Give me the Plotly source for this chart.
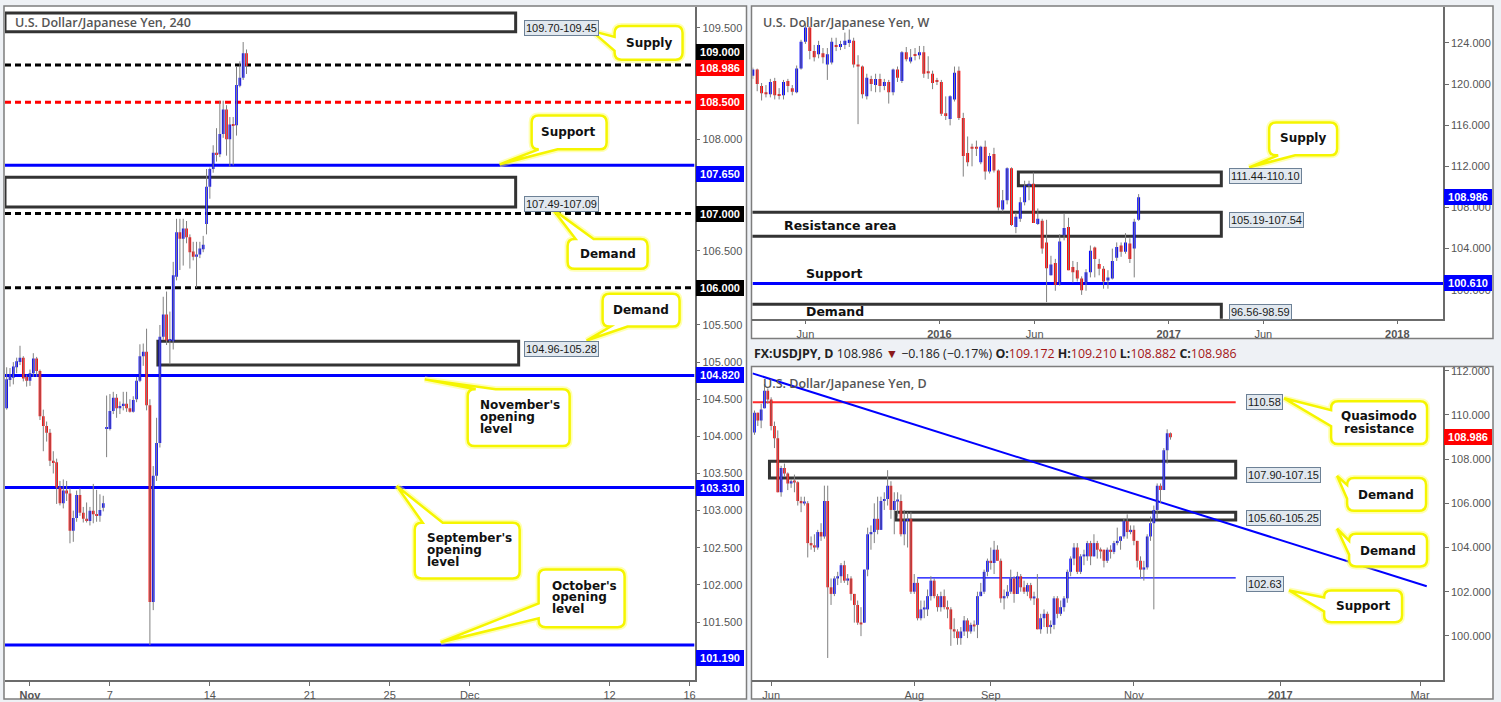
import plotly.graph_objects as go
import pandas as pd
import numpy as np

W, H = 1501, 702
BLUE, RED, WICK = "#0000ff", "#ff0000", "#808080"
AXIS = "#6b6b6b"
TXT = "#555555"
TICKFONT = dict(family="Liberation Sans", size=11, color=TXT)

# ===================== 4H panel data =====================
h4_days = ["2016-10-31", "2016-11-01", "2016-11-02", "2016-11-03", "2016-11-04",
           "2016-11-07", "2016-11-08", "2016-11-09", "2016-11-10", "2016-11-11",
           "2016-11-14", "2016-11-15", "2016-11-16"]
h4_counts = [6, 6, 6, 6, 6, 6, 6, 6, 6, 6, 6, 6, 1]
h4_open = [104.38, 104.76, 104.79, 104.93, 105.00, 105.06, 104.80, 104.75, 104.85, 105.05,
           104.88, 104.27, 104.14, 104.05, 103.67, 103.65, 103.31, 103.10, 103.27, 103.23,
           102.73, 102.90, 103.21, 102.97, 102.89, 102.86, 103.00, 102.95, 102.93, 103.04,
           104.10, 104.10, 104.34, 104.52, 104.38, 104.41, 104.44, 104.38, 104.33, 104.50,
           104.75, 105.08, 105.14, 104.42, 101.77, 103.47, 103.91, 105.34, 105.64, 105.29,
           105.28, 106.15, 106.75, 106.66, 106.80, 106.68, 106.49, 106.42, 106.45, 106.52,
           106.86, 107.36, 107.60, 107.82, 107.80, 108.07, 108.40, 108.00, 108.20, 108.19,
           108.72, 108.83, 109.16]
h4_high = [104.93, 104.92, 105.00, 105.06, 105.22, 105.08, 104.83, 104.90, 105.12, 105.07,
           104.90, 104.36, 104.20, 104.10, 103.80, 103.70, 103.40, 103.42, 103.40, 103.30,
           103.00, 103.27, 103.30, 103.05, 103.11, 103.05, 103.36, 103.28, 103.22, 103.20,
           104.55, 104.57, 104.60, 104.57, 104.47, 104.60, 104.60, 104.50, 104.54, 104.80,
           105.24, 105.25, 105.45, 104.50, 103.60, 104.25, 105.50, 105.88, 105.95, 105.68,
           106.35, 106.93, 106.93, 106.93, 106.90, 106.72, 106.62, 106.62, 106.62, 106.70,
           107.60, 107.62, 107.92, 108.15, 108.52, 108.52, 108.46, 108.30, 108.30, 108.98,
           109.05, 109.31, 109.21]
h4_low = [104.36, 104.67, 104.70, 104.85, 104.96, 104.74, 104.67, 104.68, 104.80, 104.80,
          104.22, 103.80, 103.93, 103.60, 103.50, 103.09, 103.07, 103.03, 103.13, 102.56,
          102.58, 102.85, 102.93, 102.84, 102.84, 102.80, 102.83, 102.85, 102.85, 102.99,
          103.72, 104.08, 104.30, 104.25, 104.30, 104.35, 104.33, 104.32, 104.32, 104.46,
          104.73, 104.95, 104.35, 101.19, 101.66, 103.40, 103.85, 105.30, 105.23, 104.97,
          105.17, 106.10, 106.24, 106.30, 106.60, 106.26, 106.37, 106.00, 106.40, 106.48,
          106.72, 107.20, 107.55, 107.70, 107.76, 108.02, 107.78, 107.63, 107.65, 108.05,
          108.70, 108.80, 108.88]
h4_close = [104.77, 104.83, 104.94, 105.01, 105.06, 104.78, 104.75, 104.85, 105.05, 104.88,
            104.27, 104.14, 104.05, 103.67, 103.65, 103.31, 103.10, 103.27, 103.23, 102.73,
            102.90, 103.21, 102.97, 102.89, 102.86, 103.00, 102.95, 102.93, 103.01, 103.10,
            104.12, 104.34, 104.52, 104.38, 104.41, 104.44, 104.38, 104.33, 104.49, 104.75,
            105.08, 105.14, 104.42, 101.77, 103.47, 103.91, 105.34, 105.64, 105.29, 105.31,
            106.17, 106.75, 106.66, 106.80, 106.68, 106.48, 106.42, 106.45, 106.53, 106.58,
            107.36, 107.60, 107.82, 107.80, 108.07, 108.40, 108.00, 108.20, 108.18, 108.73,
            108.83, 109.16, 108.986]
h4_tick_dates = ["2016-11-01", "2016-11-07", "2016-11-14", "2016-11-21", "2016-11-25",
                 "2016-12-01", "2016-12-12", "2016-12-16"]
h4_tick_text = ["<b>Nov</b>", "7", "14", "21", "25", "Dec", "12", "16"]
h4_yticks = [101.5, 102.0, 102.5, 103.0, 103.5, 104.0, 104.5, 105.0, 105.5, 106.5, 108.0, 109.5]
h4_levels = [109.0, 108.5, 107.65, 107.0, 106.0, 104.82, 103.31, 101.19]
h4_level_colors = ["#000000", RED, BLUE, "#000000", "#000000", BLUE, BLUE, BLUE]
h4_level_dash = ["6px,4px", "6px,4px", "solid", "6px,4px", "6px,4px", "solid", "solid", "solid"]
h4_zone_lo = [109.45, 107.09, 104.96]
h4_zone_hi = [109.70, 107.49, 105.28]
h4_zone_text = ["109.70-109.45", "107.49-107.09", "104.96-105.28"]
h4_tags = [109.0, 108.986, 108.5, 107.65, 107.0, 106.0, 104.82, 103.31, 101.19]
h4_tag_colors = ["#000000", RED, RED, BLUE, "#000000", "#000000", BLUE, BLUE, BLUE]

# ===================== Weekly panel data =====================
w_start = "2015-03-09"
w_open = [120.8, 121.4, 119.8, 119.2, 119.0, 120.3, 119.0, 118.9, 120.3, 119.6,
          119.2, 121.5, 124.1, 125.5, 123.2, 122.9, 123.0, 121.9, 122.1, 123.8,
          123.6, 123.8, 124.0, 124.2, 121.9, 121.7, 118.8, 120.5, 119.9, 120.5,
          119.8, 120.2, 119.2, 121.4, 120.3, 123.1, 122.2, 122.85, 122.8, 123.1,
          121.25, 121.0, 120.3, 120.2, 117.15, 116.6, 118.5, 121.3, 116.7, 113.3,
          113.9, 113.9, 112.4, 113.9, 111.5, 113.2, 111.6, 107.8, 108.7, 111.8,
          106.1, 106.9, 108.5, 110.1, 110.3, 106.4, 106.7, 104.6, 101.4, 102.6,
          100.45, 105.3, 106.1, 102.2, 101.9, 101.1, 100.6, 101.7, 104.1, 102.5,
          102.05, 100.9, 101.1, 103.1, 104.3, 103.7, 104.5, 104.0, 106.8]
w_high = [121.6, 121.5, 120.1, 119.9, 120.5, 120.6, 119.6, 120.4, 120.5, 119.9,
          121.8, 124.3, 125.9, 125.6, 123.8, 124.2, 123.5, 123.5, 124.5, 124.5,
          124.2, 125.0, 125.3, 124.5, 122.8, 121.8, 121.0, 120.8, 121.0, 121.0,
          120.5, 120.4, 121.5, 121.7, 123.2, 123.6, 123.4, 123.5, 123.7, 123.7,
          122.7, 121.3, 120.6, 120.4, 118.8, 118.9, 121.7, 121.7, 117.2, 114.9,
          114.2, 114.5, 114.0, 114.5, 113.3, 113.8, 111.7, 109.7, 111.9, 111.9,
          107.5, 109.0, 110.6, 110.6, 111.4, 107.9, 106.9, 106.8, 103.3, 103.0,
          105.4, 107.4, 107.0, 102.8, 102.7, 101.3, 102.0, 104.3, 104.2, 103.0,
          102.3, 101.9, 104.0, 104.6, 104.6, 105.5, 105.0, 106.9, 109.3]
w_low = [120.5, 119.3, 118.4, 118.7, 118.7, 118.5, 118.5, 118.5, 119.2, 118.9,
         119.1, 121.4, 123.9, 122.4, 122.2, 122.5, 122.0, 120.4, 121.9, 123.2,
         123.3, 123.4, 123.6, 121.6, 116.1, 118.6, 118.5, 119.3, 119.2, 119.2,
         119.4, 118.1, 118.9, 120.2, 120.1, 122.2, 122.0, 122.3, 122.4, 120.6,
         120.5, 119.5, 119.9, 116.9, 116.5, 115.98, 118.3, 116.5, 111.0, 112.0,
         112.0, 113.0, 112.2, 110.7, 111.3, 111.4, 107.7, 107.6, 108.3, 106.2,
         105.5, 106.6, 108.2, 108.7, 106.5, 106.3, 103.5, 98.8, 101.4, 99.9,
         100.4, 104.8, 101.9, 100.7, 100.8, 99.5, 99.9, 101.2, 101.2, 101.4,
         100.1, 100.1, 101.0, 102.8, 103.2, 103.5, 102.6, 101.2, 106.7]
w_close = [121.4, 120.0, 119.1, 119.0, 120.2, 118.9, 118.85, 120.2, 119.8, 119.25,
           121.5, 124.1, 125.5, 123.2, 122.6, 123.8, 122.6, 122.9, 124.1, 123.6,
           123.9, 124.2, 124.3, 121.9, 121.7, 119.0, 120.6, 120.0, 120.5, 119.8,
           120.2, 119.2, 121.4, 120.6, 123.1, 122.4, 122.6, 122.75, 123.1, 121.0,
           121.05, 120.1, 120.2, 117.1, 116.9, 118.8, 121.1, 116.7, 113.0, 112.4,
           113.7, 113.7, 113.9, 111.5, 113.0, 111.6, 108.0, 108.7, 111.8, 106.3,
           107.1, 108.5, 110.1, 110.3, 106.5, 106.9, 104.0, 102.1, 102.45, 100.45,
           104.7, 106.0, 101.9, 101.7, 101.1, 99.96, 101.7, 103.8, 103.0, 102.05,
           100.8, 101.2, 102.8, 104.15, 103.7, 104.6, 103.0, 106.6, 108.986]
w_tick_dates = ["2015-06-01", "2016-01-01", "2016-06-01", "2017-01-01", "2017-06-01", "2018-01-01"]
w_tick_text = ["Jun", "<b>2016</b>", "Jun", "<b>2017</b>", "Jun", "<b>2018</b>"]
w_yticks = [100, 104, 108, 112, 116, 120, 124]
w_zone_lo = [110.10, 105.19, 96.56]
w_zone_hi = [111.44, 107.54, 98.59]
w_zone_start = ["2016-05-06", "2015-03-01", "2015-03-01"]
w_zone_end = "2017-03-26"
w_zone_text = ["111.44-110.10", "105.19-107.54", "96.56-98.59"]
w_support = 100.61

# ===================== Daily panel data =====================
d_start, d_end = "2016-05-25", "2016-11-16"
d_open = [109.2, 110.1, 109.75, 110.3, 111.1, 110.7, 109.5, 108.95, 106.5, 107.6,
          107.35, 106.9, 107.0, 106.95, 106.1, 106.0, 106.0, 104.2, 104.1, 104.0,
          104.7, 104.5, 106.1, 102.2, 101.9, 102.6, 102.7, 103.2, 102.5, 102.6,
          101.9, 101.4, 100.6, 100.6, 103.0, 104.6, 104.7, 105.3, 104.8, 106.1,
          106.2, 106.8, 105.7, 106.1, 106.1, 104.6, 105.2, 105.3, 102.0, 102.4,
          100.8, 101.2, 101.2, 101.8, 102.5, 101.8, 101.3, 101.8, 101.3, 101.2,
          100.3, 100.2, 99.9, 100.2, 100.7, 100.2, 100.5, 100.5, 101.8, 102.0,
          102.9, 103.4, 103.3, 103.9, 103.4, 101.7, 101.8, 102.0, 102.6, 101.9,
          102.7, 102.2, 102.0, 102.3, 101.7, 101.7, 100.3, 100.8, 101.0, 100.4,
          100.5, 101.7, 101.0, 101.3, 101.7, 102.9, 103.5, 104.0, 102.9, 103.6,
          103.6, 104.2, 103.6, 104.2, 103.9, 103.9, 103.4, 103.9, 103.8, 104.2,
          104.3, 104.5, 105.2, 104.7, 104.8, 104.3, 103.4, 103.0, 103.1, 104.5,
          105.1, 105.7, 106.8, 106.6, 108.4, 109.172]
d_high = [110.2, 110.1, 110.5, 111.4, 111.2, 110.8, 109.7, 109.3, 107.7, 107.8,
          107.4, 107.1, 107.3, 107.0, 106.3, 106.3, 106.1, 104.5, 104.6, 104.8,
          105.1, 106.8, 106.8, 102.6, 102.7, 102.9, 103.3, 103.4, 102.8, 102.7,
          101.9, 101.6, 101.3, 103.0, 104.9, 105.0, 106.0, 106.3, 106.3, 106.5,
          107.5, 107.0, 106.5, 106.5, 106.4, 105.7, 105.6, 105.6, 102.8, 102.6,
          101.6, 101.6, 102.1, 102.7, 102.6, 101.9, 102.0, 102.1, 101.6, 101.3,
          100.8, 100.3, 100.4, 100.9, 100.8, 100.6, 100.7, 102.0, 102.4, 103.0,
          103.5, 104.0, 104.3, 104.1, 103.5, 102.1, 102.3, 103.0, 102.7, 102.9,
          102.8, 102.5, 102.4, 102.4, 102.0, 102.8, 101.0, 101.2, 101.1, 100.7,
          101.8, 101.8, 101.6, 101.8, 103.0, 103.6, 104.2, 104.2, 103.7, 103.9,
          104.3, 104.3, 104.6, 104.3, 104.0, 103.9, 104.0, 104.1, 104.3, 104.9,
          104.5, 105.3, 105.5, 105.0, 105.0, 104.3, 103.6, 103.4, 104.6, 105.4,
          105.9, 106.9, 106.9, 108.5, 109.35, 109.21]
d_low = [109.1, 109.5, 109.4, 110.3, 110.5, 109.3, 108.5, 106.5, 106.3, 107.2,
         106.6, 106.7, 106.5, 105.9, 105.6, 105.9, 103.55, 103.9, 103.8, 103.9,
         104.3, 104.4, 99.0, 101.4, 101.8, 102.3, 102.4, 102.4, 102.3, 101.6,
         100.6, 100.5, 99.99, 100.6, 102.7, 103.9, 104.2, 104.6, 104.8, 105.7,
         105.9, 105.3, 104.6, 105.4, 104.5, 104.1, 104.0, 101.9, 101.9, 100.7,
         100.7, 100.8, 100.9, 101.6, 101.7, 101.1, 101.1, 101.2, 100.8, 99.55,
         99.9, 99.6, 99.6, 100.0, 99.9, 100.1, 100.2, 99.9, 101.8, 101.9,
         102.7, 103.0, 102.8, 103.4, 101.5, 101.2, 101.7, 101.9, 101.5, 101.9,
         102.0, 101.9, 101.8, 101.6, 101.4, 100.3, 100.1, 100.4, 100.1, 100.1,
         100.3, 100.8, 100.9, 101.1, 101.5, 102.7, 103.2, 102.8, 102.8, 103.2,
         103.4, 103.2, 103.6, 103.5, 103.5, 103.1, 103.3, 103.5, 103.7, 104.1,
         103.9, 104.4, 104.4, 104.6, 104.1, 103.1, 102.6, 102.5, 103.0, 104.3,
         101.2, 105.3, 106.0, 106.6, 107.8, 108.882]
d_close = [110.1, 109.75, 110.25, 111.1, 110.7, 109.5, 108.95, 106.5, 107.6, 107.35,
           106.9, 107.0, 106.95, 106.1, 106.0, 106.05, 104.2, 104.1, 104.0, 104.7,
           104.5, 106.1, 102.2, 101.9, 102.6, 102.7, 103.2, 102.5, 102.6, 101.9,
           101.4, 100.6, 100.55, 103.0, 104.6, 104.7, 105.3, 104.8, 106.1, 106.2,
           106.8, 105.7, 106.1, 106.15, 104.6, 105.2, 105.3, 102.0, 102.4, 100.8,
           101.2, 101.25, 101.8, 102.5, 101.8, 101.3, 101.8, 101.3, 101.2, 100.3,
           100.2, 99.9, 100.2, 100.7, 100.2, 100.5, 100.45, 101.8, 102.0, 102.9,
           103.4, 103.3, 103.9, 103.4, 101.7, 101.8, 102.0, 102.6, 101.9, 102.7,
           102.2, 102.0, 102.3, 101.7, 101.75, 100.3, 100.8, 101.0, 100.4, 100.5,
           101.7, 101.0, 101.3, 101.7, 102.9, 103.5, 104.0, 102.9, 103.6, 103.65,
           104.2, 103.6, 104.2, 103.9, 103.85, 103.4, 103.9, 103.8, 104.2, 104.3,
           104.5, 105.2, 104.7, 104.8, 104.3, 103.4, 103.0, 103.1, 104.5, 105.1,
           105.7, 106.8, 106.6, 108.4, 109.172, 108.986]
d_tick_dates = ["2016-06-01", "2016-08-01", "2016-09-01", "2016-11-01", "2017-01-02", "2017-03-01"]
d_tick_text = ["Jun", "Aug", "Sep", "Nov", "<b>2017</b>", "Mar"]
d_yticks = [100, 102, 104, 106, 108, 110, 112]
d_zone_lo = [107.15, 105.25]
d_zone_hi = [107.90, 105.60]
d_zone_start = [4.5, 42.5]
d_zone_end = 144.6
d_zone_text = ["107.90-107.15", "105.60-105.25"]
d_qm_level, d_support_level = 110.58, 102.63
d_support_start = 48.9
d_trend_x = [-0.6, 202.0]
d_trend_y = [111.88, 102.25]

# ===================== helpers =====================
def PX(x):
    return x / W

def PY(y):
    return 1 - y / H

fig = go.Figure()
shapes, annots = [], []


def add_candles(xs, o, h, l, c, xa, ya, body_w, min_h):
    o, h, l, c = map(np.asarray, (o, h, l, c))
    wx, wy = [], []
    for xi, lo, hi in zip(xs, l, h):
        wx += [xi, xi, None]
        wy += [lo, hi, None]
    fig.add_trace(go.Scatter(x=wx, y=wy, mode="lines", line=dict(color=WICK, width=1),
                             xaxis=xa, yaxis=ya, hoverinfo="skip", showlegend=False))
    base = np.minimum(o, c)
    height = np.maximum(np.abs(c - o), min_h)
    cols = [BLUE if cc >= oo else RED for oo, cc in zip(o, c)]
    fig.add_trace(go.Bar(x=list(xs), y=height, base=base, width=body_w,
                         marker=dict(color=cols, line=dict(width=0)),
                         xaxis=xa, yaxis=ya, hoverinfo="skip", showlegend=False))


def price_tag(val, color, yref, xpix, yshift=0):
    annots.append(dict(xref="paper", yref=yref, x=PX(xpix), y=val, xanchor="left",
                       yanchor="middle", text=f"<b>{val:.3f}</b>", showarrow=False,
                       bgcolor=color, font=dict(family="Liberation Sans", size=11, color="white"),
                       width=46, height=14, borderpad=1, borderwidth=0, yshift=yshift))


def zone_label(text, xpix, ypix):
    annots.append(dict(xref="paper", yref="paper", x=PX(xpix), y=PY(ypix), xanchor="left",
                       yanchor="middle", text=text, showarrow=False, bgcolor="#e1e8ef",
                       bordercolor="#6d8196", borderwidth=1, borderpad=1,
                       font=dict(family="Liberation Sans", size=11, color="#1a1a1a")))


def callout(x0, y0, x1, y1, side, a, b, tx, ty, r=7):
    P = lambda x, y: f"{x / W:.6f},{1 - y / H:.6f}"
    s = [f"M {P(x0 + r, y0)}"]
    if side == "top":
        s += [f"L {P(a, y0)}", f"L {P(tx, ty)}", f"L {P(b, y0)}"]
    s += [f"L {P(x1 - r, y0)}", f"Q {P(x1, y0)} {P(x1, y0 + r)}"]
    if side == "right":
        s += [f"L {P(x1, a)}", f"L {P(tx, ty)}", f"L {P(x1, b)}"]
    s += [f"L {P(x1, y1 - r)}", f"Q {P(x1, y1)} {P(x1 - r, y1)}"]
    if side == "bottom":
        s += [f"L {P(b, y1)}", f"L {P(tx, ty)}", f"L {P(a, y1)}"]
    s += [f"L {P(x0 + r, y1)}", f"Q {P(x0, y1)} {P(x0, y1 - r)}"]
    if side == "left":
        s += [f"L {P(x0, b)}", f"L {P(tx, ty)}", f"L {P(x0, a)}"]
    s += [f"L {P(x0, y0 + r)}", f"Q {P(x0, y0)} {P(x0 + r, y0)}", "Z"]
    path = " ".join(s)
    shapes.append(dict(type="path", xref="paper", yref="paper", path=path,
                       fillcolor="white", line=dict(color="rgba(255,255,90,0.45)", width=6),
                       layer="above"))
    shapes.append(dict(type="path", xref="paper", yref="paper", path=path,
                       fillcolor="white", line=dict(color="#f5f500", width=2.5), layer="above"))


def btext(text, xpix, ypix, anchor="center", size=12):
    annots.append(dict(xref="paper", yref="paper", x=PX(xpix), y=PY(ypix), xanchor=anchor,
                       yanchor="middle", text=f"<b>{text}</b>", showarrow=False,
                       font=dict(family="DejaVu Sans", size=size, color="#111111")))


# ===================== backgrounds & frames =====================
for (x0, y0, x1, y1) in [(4, 3, 747, 699), (752, 3, 1494, 337), (752, 365, 1494, 699)]:
    shapes.append(dict(type="rect", xref="paper", yref="paper", x0=PX(x0), x1=PX(x1),
                       y0=PY(y1), y1=PY(y0), fillcolor="white",
                       line=dict(color="#7d7d7d", width=1.5), layer="below"))

# ===================== 4H panel =====================
h4_x = []
for d, n in zip(h4_days, h4_counts):
    b = int(np.busday_count(h4_days[0], d))
    h4_x += [b * 6 + j for j in range(n)]
h4_tickvals = [int(np.busday_count(h4_days[0], t)) * 6 + 1 for t in h4_tick_dates]
H4_RANGE = [-0.5, 206.5]

add_candles(h4_x, h4_open, h4_high, h4_low, h4_close, "x", "y", 0.8, 0.014)

for lv, col, ds in zip(h4_levels, h4_level_colors, h4_level_dash):
    shapes.append(dict(type="line", xref="x", yref="y", x0=H4_RANGE[0], x1=H4_RANGE[1],
                       y0=lv, y1=lv, line=dict(color=col, width=3, dash=ds), layer="below"))
h4_zone_x0 = [H4_RANGE[0], H4_RANGE[0], 45.4]
h4_zone_x1 = [152.8, 152.8, 153.7]
for lo, hi, zx0, zx1 in zip(h4_zone_lo, h4_zone_hi, h4_zone_x0, h4_zone_x1):
    shapes.append(dict(type="rect", xref="x", yref="y", x0=zx0, x1=zx1, y0=lo, y1=hi,
                       line=dict(color="#333333", width=3), fillcolor="rgba(0,0,0,0)",
                       layer="below"))
for txt, yp in zip(h4_zone_text, [25, 201.5, 347.5]):
    zone_label(txt, 524, yp)
h4_tag_shift = [13, -2, 0, -9, 0, 0, 0, 0, -13]
for v, col, sh in zip(h4_tags, h4_tag_colors, h4_tag_shift):
    price_tag(v, col, "y", 696.5, sh)

annots.append(dict(xref="paper", yref="paper", x=PX(13), y=PY(20), xanchor="left",
                   yanchor="middle", text="U.S. Dollar/Japanese Yen, 240", showarrow=False,
                   font=dict(family="Open Sans", size=12.5, color="#555555", weight=600)))

callout(615, 23, 683, 57, "left", 34, 48, 592, 28)
btext("Supply", 649, 40)
callout(532, 113, 607, 147, "bottom", 539, 558, 500, 162)
btext("Support", 569, 130)
callout(568, 237, 648, 267, "top", 576, 594, 553, 207)
btext("Demand", 608, 252)
callout(603, 292, 680, 325, "bottom", 611, 628, 587, 339)
btext("Demand", 641, 308)
callout(468, 388, 570, 445, "top", 476, 496, 425, 378)
for t, yy in zip(["November's", "opening", "level"], [404, 416, 428]):
    btext(t, 478, yy, "left")
callout(415, 522, 520, 578, "top", 423, 443, 397, 485)
for t, yy in zip(["September's", "opening", "level"], [537, 549, 561]):
    btext(t, 425, yy, "left")
callout(539, 569, 625, 627, "left", 603, 618, 441, 642)
for t, yy in zip(["October's", "opening", "level"], [585, 597, 609]):
    btext(t, 550, yy, "left")

# ===================== Weekly panel =====================
w_dates = pd.date_range(w_start, periods=len(w_close), freq="7D")
WEEK_MS = 7 * 24 * 3600 * 1000
add_candles(list(w_dates), w_open, w_high, w_low, w_close, "x2", "y2", 0.66 * WEEK_MS, 0.09)
W_RANGE = ["2015-03-08 12:00", "2018-03-15"]
for lo, hi, zs in zip(w_zone_lo, w_zone_hi, w_zone_start):
    shapes.append(dict(type="rect", xref="x2", yref="y2", x0=zs, x1=w_zone_end, y0=lo, y1=hi,
                       line=dict(color="#333333", width=3), fillcolor="rgba(0,0,0,0)",
                       layer="below"))
shapes.append(dict(type="line", xref="x2", yref="y2", x0=W_RANGE[0], x1=W_RANGE[1],
                   y0=w_support, y1=w_support, line=dict(color=BLUE, width=3), layer="below"))
for txt, yp in zip(w_zone_text, [173.5, 217.5, 310]):
    zone_label(txt, 1230, yp)
price_tag(w_close[-1], BLUE, "y2", 1444.5)
price_tag(w_support, BLUE, "y2", 1444.5)
btext("Resistance area", 783, 223, "left", 12.5)
btext("Support", 805, 271.5, "left", 12.5)
btext("Demand", 805, 310, "left", 12.5)
annots.append(dict(xref="paper", yref="paper", x=PX(762), y=PY(20), xanchor="left",
                   yanchor="middle", text="U.S. Dollar/Japanese Yen, W", showarrow=False,
                   font=dict(family="Open Sans", size=12.5, color="#555555", weight=600)))
callout(1270, 120, 1338, 153, "bottom", 1279, 1296, 1250, 165)
btext("Supply", 1304, 136)

# ===================== Daily panel =====================
d_dates = pd.bdate_range(d_start, d_end)
d_x = np.arange(len(d_dates))
d_tickvals = [int(np.busday_count(d_start, t)) for t in d_tick_dates]
D_RANGE = [-0.6, 206.9]
add_candles(d_x, d_open, d_high, d_low, d_close, "x3", "y3", 0.8, 0.045)
for lo, hi, zs in zip(d_zone_lo, d_zone_hi, d_zone_start):
    shapes.append(dict(type="rect", xref="x3", yref="y3", x0=zs, x1=d_zone_end, y0=lo, y1=hi,
                       line=dict(color="#333333", width=3), fillcolor="rgba(0,0,0,0)",
                       layer="below"))
shapes.append(dict(type="line", xref="x3", yref="y3", x0=D_RANGE[0], x1=d_zone_end,
                   y0=d_qm_level, y1=d_qm_level, line=dict(color="#ff2a2a", width=2), layer="below"))
shapes.append(dict(type="line", xref="x3", yref="y3", x0=d_support_start, x1=d_zone_end,
                   y0=d_support_level, y1=d_support_level, line=dict(color=BLUE, width=1.2),
                   layer="below"))
shapes.append(dict(type="line", xref="x3", yref="y3", x0=d_trend_x[0], x1=d_trend_x[1],
                   y0=d_trend_y[0], y1=d_trend_y[1], line=dict(color=BLUE, width=2), layer="below"))
zone_label(f"{d_qm_level:.2f}", 1247, 401)
for txt, yp in zip(d_zone_text, [474, 517]):
    zone_label(txt, 1247, yp)
zone_label(f"{d_support_level:.2f}", 1247, 583)
price_tag(d_close[-1], RED, "y3", 1444.5)
annots.append(dict(xref="paper", yref="paper", x=PX(762), y=PY(382), xanchor="left",
                   yanchor="middle", text="U.S. Dollar/Japanese Yen, D", showarrow=False,
                   font=dict(family="Open Sans", size=12.5, color="#555555", weight=600)))
callout(1332, 400, 1428, 443, "left", 409, 425, 1285, 397)
btext("Quasimodo", 1380, 415)
btext("resistance", 1380, 428)
callout(1348, 477, 1427, 510, "left", 484, 498, 1338, 475)
btext("Demand", 1387, 494)
callout(1350, 533, 1428, 566, "left", 540, 554, 1338, 528)
btext("Demand", 1389, 550)
callout(1325, 590, 1403, 622, "left", 597, 611, 1290, 590)
btext("Support", 1364, 606)

# header line
last_o, last_h, last_l, last_c = d_open[-1], d_high[-1], d_low[-1], d_close[-1]
chg = last_c - d_close[-2]
pct = chg / d_close[-2] * 100
DR = "#a31515"
header = (f"<b>FX:USDJPY, D</b> {last_c:.3f} <span style='color:#8b1a1a'>▼</span> "
          f"\u2212{abs(chg):.3f} (\u2212{abs(pct):.2f}%) "
          f"<b>O:</b><span style='color:{DR}'>{last_o:.3f}</span> "
          f"<b>H:</b><span style='color:{DR}'>{last_h:.3f}</span> "
          f"<b>L:</b><span style='color:{DR}'>{last_l:.3f}</span> "
          f"<b>C:</b><span style='color:{DR}'>{last_c:.3f}</span>")
annots.append(dict(xref="paper", yref="paper", x=PX(753), y=PY(352), xanchor="left",
                   yanchor="middle", text=header, showarrow=False,
                   font=dict(family="Open Sans", size=12.4, color="#222222")))

# ===================== axes =====================
def xax(domain, rng, tv, tt, anchor, typ="linear"):
    return dict(domain=domain, range=rng, tickvals=tv, ticktext=tt, type=typ, anchor=anchor,
                ticks="outside", ticklen=4, tickcolor=AXIS, showline=True, linecolor=AXIS,
                linewidth=1.5, showgrid=False, zeroline=False, tickfont=TICKFONT,
                fixedrange=True)


def yax(domain, rng, tv, fmt, anchor):
    return dict(domain=domain, range=rng, tickvals=tv, ticktext=[fmt.format(v) for v in tv],
                side="right", anchor=anchor, ticks="outside", ticklen=4, tickcolor=AXIS,
                showline=True, linecolor=AXIS, linewidth=1.5, showgrid=False, zeroline=False,
                tickfont=TICKFONT, fixedrange=True)


fig.update_layout(
    width=W, height=H, margin=dict(l=0, r=0, t=0, b=0),
    paper_bgcolor="#eef1f5", plot_bgcolor="rgba(0,0,0,0)",
    barmode="overlay", showlegend=False,
    xaxis=xax([PX(5), PX(695)], H4_RANGE, h4_tickvals, h4_tick_text, "y"),
    yaxis=yax([PY(680), PY(4)], [100.718, 109.782], h4_yticks, "{:.3f}", "x"),
    xaxis2=xax([PX(753), PX(1444)], W_RANGE, w_tick_dates, w_tick_text, "y2", "date"),
    yaxis2=yax([PY(317), PY(4)], [97.19, 127.49], w_yticks, "{:.3f}", "x2"),
    xaxis3=xax([PX(753), PX(1444)], D_RANGE, d_tickvals, d_tick_text, "y3"),
    yaxis3=yax([PY(680), PY(366)], [98.0, 112.15], d_yticks, "{:.3f}", "x3"),
    shapes=shapes, annotations=annots,
)

fig.write_html("out.html", config={"displayModeBar": False},
               post_script="document.body.style.margin='0';document.body.style.overflow='hidden';")
